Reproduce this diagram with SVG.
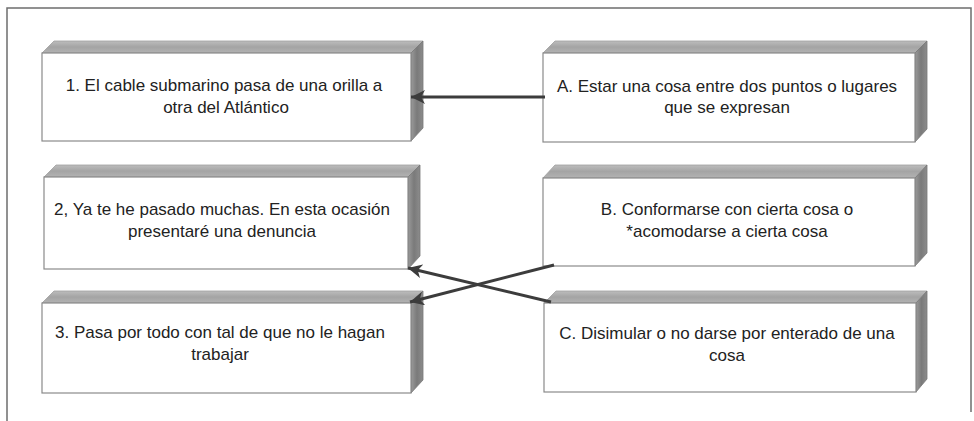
<svg xmlns="http://www.w3.org/2000/svg" width="974" height="421" viewBox="0 0 974 421">
<defs>
<linearGradient id="side" x1="0" y1="0" x2="1" y2="0">
<stop offset="0" stop-color="#9a9a9a"/>
<stop offset="0.5" stop-color="#7a7a7a"/>
<stop offset="1" stop-color="#8c8c8c"/>
</linearGradient>
<linearGradient id="topg" x1="0" y1="0" x2="0" y2="1">
<stop offset="0" stop-color="#bdbdbd"/>
<stop offset="0.5" stop-color="#a4a4a4"/>
<stop offset="1" stop-color="#b3b3b3"/>
</linearGradient>
<marker id="ah" markerUnits="userSpaceOnUse" markerWidth="16" markerHeight="14" refX="14" refY="7" orient="auto">
<path d="M0,0 L14,7 L0,14 L4,7 Z" fill="#3c3c3c"/>
</marker>
</defs>
<style>
.front{fill:#ffffff;stroke:#8a8a8a;stroke-width:1.2}
.top{fill:url(#topg);stroke:#a0a0a0;stroke-width:0.8}
.side{fill:url(#side);stroke:#777;stroke-width:0.8}
.t{font-family:"Liberation Sans",Arial,sans-serif;font-size:17px;fill:#222;text-anchor:middle}
.c{fill:none;stroke:#3c3c3c;stroke-width:3;marker-end:url(#ah)}
.frame{fill:none;stroke:#6e6e6e;stroke-width:1.5}
</style>
<path class="frame" d="M7,421 L7,8 L971,8 L971,412"/>

<g id="n1">
<polygon class="top" points="42,53 54,41 423,41 411,53"/>
<polygon class="side" points="411,53 423,41 423,128 411,141"/>
<rect class="front" x="42" y="53" width="369" height="88"/>
<text class="t" x="224" y="91">1. El cable submarino pasa de una orilla a</text>
<text class="t" x="226" y="113">otra del Atlántico</text>
</g>
<g id="n2">
<polygon class="top" points="44,177 56,165 420,165 408,177"/>
<polygon class="side" points="408,177 420,165 420,256 408,269"/>
<rect class="front" x="44" y="177" width="364" height="92"/>
<text class="t" x="222" y="215">2, Ya te he pasado muchas. En esta ocasión</text>
<text class="t" x="222" y="237">presentaré una denuncia</text>
</g>
<g id="n3">
<polygon class="top" points="42,303 54,291 423,291 411,303"/>
<polygon class="side" points="411,303 423,291 423,380 411,393"/>
<rect class="front" x="42" y="303" width="369" height="90"/>
<text class="t" x="220" y="338">3. Pasa por todo con tal de que no le hagan</text>
<text class="t" x="220" y="360">trabajar</text>
</g>
<g id="nA">
<polygon class="top" points="543,53 555,41 927,41 915,53"/>
<polygon class="side" points="915,53 927,41 927,129 915,142"/>
<rect class="front" x="543" y="53" width="372" height="89"/>
<text class="t" x="727" y="92">A. Estar una cosa entre dos puntos o lugares</text>
<text class="t" x="727" y="113">que se expresan</text>
</g>
<g id="nB">
<polygon class="top" points="543,178 555,165 927,165 915,178"/>
<polygon class="side" points="915,178 927,165 927,253 915,266"/>
<rect class="front" x="543" y="178" width="372" height="88"/>
<text class="t" x="727" y="215">B. Conformarse con cierta cosa o</text>
<text class="t" x="727" y="237">*acomodarse a cierta cosa</text>
</g>
<g id="nC">
<polygon class="top" points="544,303 556,291 927,291 916,303"/>
<polygon class="side" points="916,303 927,291 927,379 916,392"/>
<rect class="front" x="544" y="303" width="372" height="89"/>
<text class="t" x="727" y="339">C. Disimular o no darse por enterado de una</text>
<text class="t" x="727" y="361">cosa</text>
</g>

<g id="connectors">
<line class="c" x1="545" y1="97" x2="411" y2="97"/>
<line class="c" x1="554" y1="265" x2="410" y2="302"/>
<line class="c" x1="551" y1="302" x2="408" y2="268"/>
</g>
</svg>
